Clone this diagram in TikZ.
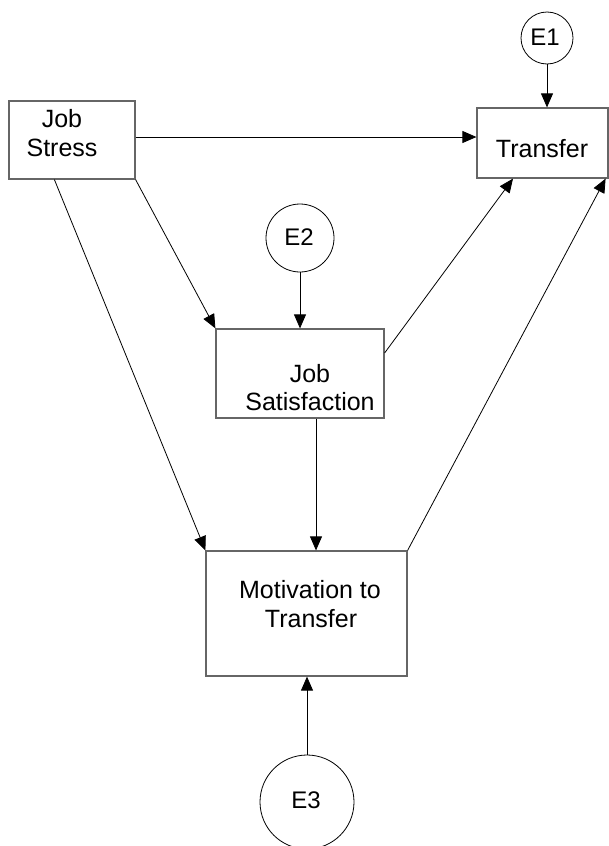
\documentclass[tikz,border=0pt]{standalone}
\usepackage{fontspec}
\setmainfont{Liberation Sans}
\usetikzlibrary{arrows.meta,calc}
\definecolor{boxline}{HTML}{666666}
\tikzset{
  box/.style={draw=boxline, line width=1.2pt, rectangle, inner sep=0pt},
  err/.style={draw=black, line width=0.8pt, circle, inner sep=0pt},
  lbl/.style={anchor=base, font=\fontsize{25}{29}\selectfont, inner sep=0pt},
  elbl/.style={anchor=base, font=\fontsize{24}{28}\selectfont, inner sep=0pt},
  link/.style={draw=black, line width=0.8pt, -{Triangle[length=14pt,width=12pt]}},
}
\begin{document}
\begin{tikzpicture}[x=1pt,y=-1pt]
\useasboundingbox (0,0) rectangle (609,846);

% boxes
\node[box, minimum width=126pt, minimum height=78pt] (js)  at (72,140) {};
\node[box, minimum width=131pt, minimum height=70pt] (tr)  at (542.5,143) {};
\node[box, minimum width=168pt, minimum height=89pt] (sat) at (300,373.5) {};
\node[box, minimum width=201pt, minimum height=125pt] (mot) at (306.5,613.5) {};

% box texts
\node[lbl] (jsA) at (62,127) {Job};
\node[lbl] (jsB) at (62,156) {Stress};
\node[lbl] (trA) at (542,157) {Transfer};
\node[lbl] (satA) at (310,382) {Job};
\node[lbl] (satB) at (310,410) {Satisfaction};
\node[lbl] (motA) at (310,598) {Motivation to};
\node[lbl] (motB) at (311,627) {Transfer};

% error terms
\node[err, minimum size=52pt] (e1) at (547,38) {};
\node[err, minimum size=68pt] (e2) at (300,238) {};
\node[err, minimum size=94pt] (e3) at (307,802) {};
\node[elbl] (e1t) at (545,45) {E1};
\node[elbl] (e2t) at (299,245) {E2};
\node[elbl] (e3t) at (306,808) {E3};

% paths
\draw[link] (e1.south) -- (e1.south |- tr.north);
\draw[link] ($(js.east)+(0,-3)$) -- ($(tr.west)+(0,-6)$);
\draw[link] (js.south east) -- (sat.north west);
\draw[link] (e2.south) -- (sat.north);
\draw[link] ($(sat.east)+(0,-20.5)$) -- ($(tr.south)+(-29.5,0)$);
\draw[link] ($(sat.south)+(16,0)$) -- ($(mot.north)+(9.5,0)$);
\draw[link] ($(js.south west)+(46,0)$) -- (mot.north west);
\draw[link] (mot.north east) -- ($(tr.south east)+(-3,0)$);
\draw[link] (e3.north) -- (e3.north |- mot.south);
\end{tikzpicture}
\end{document}
